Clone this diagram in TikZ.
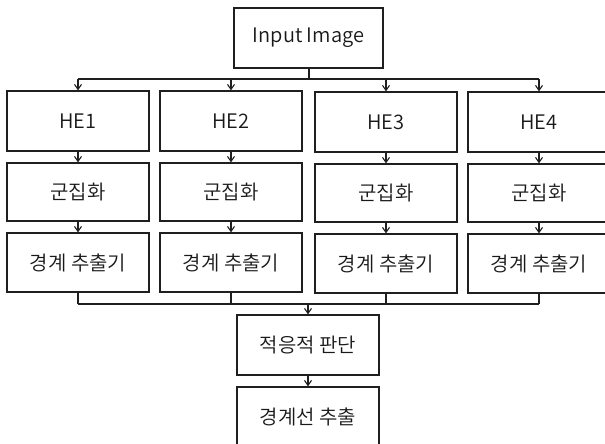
\documentclass[tikz,border=0pt]{standalone}
\usepackage{fontspec}
\setmainfont{Noto Sans CJK KR}[UprightFont={* DemiLight}]
\usetikzlibrary{arrows.meta}
\begin{document}
\begin{tikzpicture}[x=1pt,y=-1pt,
  box/.style={draw=black!88, line width=1.3pt, minimum width=142pt, minimum height=60pt,
    inner sep=0pt, font=\fontsize{20}{24}\selectfont, text=black!90},
  link/.style={draw=black!88, line width=1.1pt},
  arr/.style={link, -{Straight Barb[length=5pt,width=7pt,line width=1.1pt]}}]
\path[use as bounding box, clip] (0,0) rectangle (605,444);
\fill[white] (0,0) rectangle (605,444);
% nodes
\node[box, minimum width=149pt] (in) at (308.5,38) {Input Image};
\node[box] (he1) at (78,121) {HE1};
\node[box] (he2) at (231,121) {HE2};
\node[box] (he3) at (386,122) {HE3};
\node[box] (he4) at (539,122) {HE4};
\node[box, minimum height=58pt] (cl1) at (78,192) {군집화};
\node[box, minimum height=58pt] (cl2) at (231,192) {군집화};
\node[box, minimum height=58pt] (cl3) at (386,193) {군집화};
\node[box, minimum height=58pt] (cl4) at (539,193) {군집화};
\node[box, minimum height=59pt] (bd1) at (78,262.5) {경계 추출기};
\node[box, minimum height=59pt] (bd2) at (231,262.5) {경계 추출기};
\node[box, minimum height=59pt] (bd3) at (386,263.5) {경계 추출기};
\node[box, minimum height=59pt] (bd4) at (539,263.5) {경계 추출기};
\node[box] (jd) at (308,345) {적응적 판단};
\node[box] (fe) at (308,417) {경계선 추출};
% split and merge points
\coordinate (split) at (309,79);
\coordinate (merge) at (308,304);
\draw[link] (in.south -| split) -- (split);
\draw[link] (split -| he1) -- (split -| he4);
\foreach \i in {1,2,3,4} {
  \draw[arr] (split -| he\i) -- (he\i.north);
  \draw[arr] (he\i.south) -- (cl\i.north);
  \draw[arr] (cl\i.south) -- (bd\i.north);
  \draw[link] (bd\i.south) -- (merge -| bd\i);
}
\draw[link] (merge -| bd1) -- (merge -| bd4);
\draw[arr] (merge) -- (jd.north);
\draw[arr] (jd.south) -- (fe.north);
\end{tikzpicture}
\end{document}
